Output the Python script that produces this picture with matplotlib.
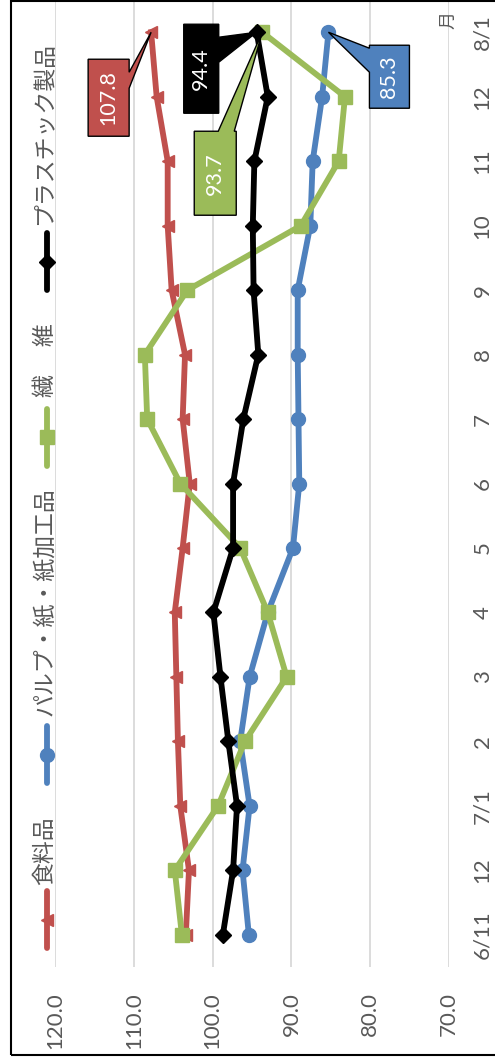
import matplotlib
matplotlib.use("Agg")
import matplotlib.pyplot as plt
from matplotlib.lines import Line2D
from matplotlib.patches import Rectangle, Polygon
from matplotlib.transforms import IdentityTransform

plt.rcParams['font.family'] = ['Lato', 'Noto Sans CJK JP', 'DejaVu Sans']

# price index by survey date
dates = ['6/11', '12', '7/1', '2', '3', '4', '5', '6', '7', '8', '9', '10', '11', '12', '8/1']
food = [103.4, 103.0, 104.1, 104.4, 104.6, 104.8, 103.8, 102.9, 103.8, 103.5, 105.2, 105.7, 105.7, 107.1, 107.8]
pulp = [95.4, 96.2, 95.3, 96.5, 95.3, 93.0, 89.8, 89.0, 89.1, 89.2, 89.2, 87.6, 87.3, 86.1, 85.3]
textile = [103.9, 104.8, 99.3, 95.9, 90.6, 93.0, 96.5, 104.1, 108.3, 108.6, 103.2, 88.8, 84.0, 83.2, 93.7]
plastic = [98.7, 97.4, 96.9, 98.0, 99.0, 99.9, 97.4, 97.4, 96.1, 94.2, 94.8, 94.9, 94.7, 93.0, 94.4]

names = ['食料品', 'パルプ・紙・紙加工品', '繊　 維', 'プラスチック製品']
colors = ['#C0504D', '#4F81BD', '#9BBB59', '#000000']
markers = ['<', 'o', 's', 'D']
msizes = [9, 10, 10, 8]
series = [food, pulp, textile, plastic]

W, H = 495, 1064
fig = plt.figure(figsize=(W / 100, H / 100), dpi=100)


def fx(px):
    return px / W


def fy(py):
    return 1 - py / H


ax = fig.add_axes([fx(55), fy(967), fx(449) - fx(55), fy(0) - fy(967)])
idx = list(range(len(dates)))

for vals, c, m, ms in zip(series, colors, markers, msizes):
    ax.plot(vals, idx, color=c, lw=4.2, marker=m, ms=ms, mfc=c, mec=c,
            solid_joinstyle='round', zorder=3)

ax.set_xlim(120, 70)
ax.set_ylim(-0.5, len(dates) - 0.5)
ticks = [120, 110, 100, 90, 80, 70]
ax.set_xticks(ticks)
ax.set_xticklabels([f'{t:.1f}' for t in ticks], rotation=90, color='#595959', fontsize=16)
ax.set_yticks(idx)
ax.set_yticklabels(dates, rotation=90, color='#595959', fontsize=16, va='center')
ax.yaxis.tick_right()
ax.tick_params(axis='x', length=0, pad=18)
ax.tick_params(axis='y', length=0, pad=17)
ax.grid(axis='x', color='#D9D9D9', lw=1.3)
ax.set_axisbelow(True)
for s in ax.spines.values():
    s.set_visible(False)

fig.text(fx(448), fy(20), '月', rotation=90, ha='center', va='center',
         color='#595959', fontsize=13, family=['Noto Sans CJK JP'])


def callout(val, pos, c, off, half, base, edge):
    # box + pointer as one outlined shape, in pixels (y down) relative to the point
    dx, dy = ax.transData.transform((val, pos))
    tx, ty = dx, H - dy
    cx, cy = tx + off[0], ty + off[1]
    hw, hh = half
    corners = [(cx - hw, cy - hh), (cx + hw, cy - hh), (cx + hw, cy + hh), (cx - hw, cy + hh)]
    b1 = (cx + base[0][0], cy + base[0][1])
    b2 = (cx + base[1][0], cy + base[1][1])
    pts = corners[:edge + 1] + [b1, (tx, ty), b2] + corners[edge + 1:]
    pts = [(x, H - y) for x, y in pts]
    fig.add_artist(Polygon(pts, closed=True, fc=c, ec='black', lw=1,
                           transform=IdentityTransform(), zorder=5))
    fig.text(fx(cx), fy(cy), f'{val:.1f}', rotation=90, ha='center', va='center',
             color='white', fontsize=15.5, zorder=6)


last = len(dates) - 1
callout(food[last], last, colors[0], (-42.5, 65.5), (20.5, 38.5),
        [(20.5, -25.5), (20.5, -9.5)], 1)
callout(plastic[last], last, colors[3], (-55.5, 36.5), (17.5, 44.5),
        [(17.5, -31.5), (17.5, -6.5)], 1)
callout(textile[last], last, colors[2], (-47, 141), (21, 42),
        [(3, -42), (19, -42)], 0)
callout(pulp[last], last, colors[1], (61, 44.5), (20, 31.5),
        [(-20, -4.5), (-20, -28.5)], 3)

# legend drawn sideways along the left edge
leg_x = 47
leg_items = [(948, 885), (783, 716), (466, 397), (290, 225)]
for (y0, ty), name, c, m, ms in zip(leg_items, names, colors, markers, msizes):
    y1 = y0 - 57
    fig.add_artist(Line2D([fx(leg_x), fx(leg_x)], [fy(y0), fy(y1)], transform=fig.transFigure,
                          color=c, lw=4.2, solid_capstyle='round'))
    fig.add_artist(Line2D([fx(leg_x)], [fy((y0 + y1) / 2)], transform=fig.transFigure,
                          color=c, marker=m, ms=ms, mfc=c, mec=c, lw=0))
    fig.text(fx(leg_x - 2), fy(ty), name, rotation=90, ha='center', va='bottom',
             color='#595959', fontsize=16.5, family=['Noto Sans CJK JP'])

fig.add_artist(Rectangle((fx(11), fy(1055)), 1.0, fy(1) - fy(1055), transform=fig.transFigure,
                         fill=False, ec='black', lw=1.5))

fig.savefig('out.png', dpi=100)
